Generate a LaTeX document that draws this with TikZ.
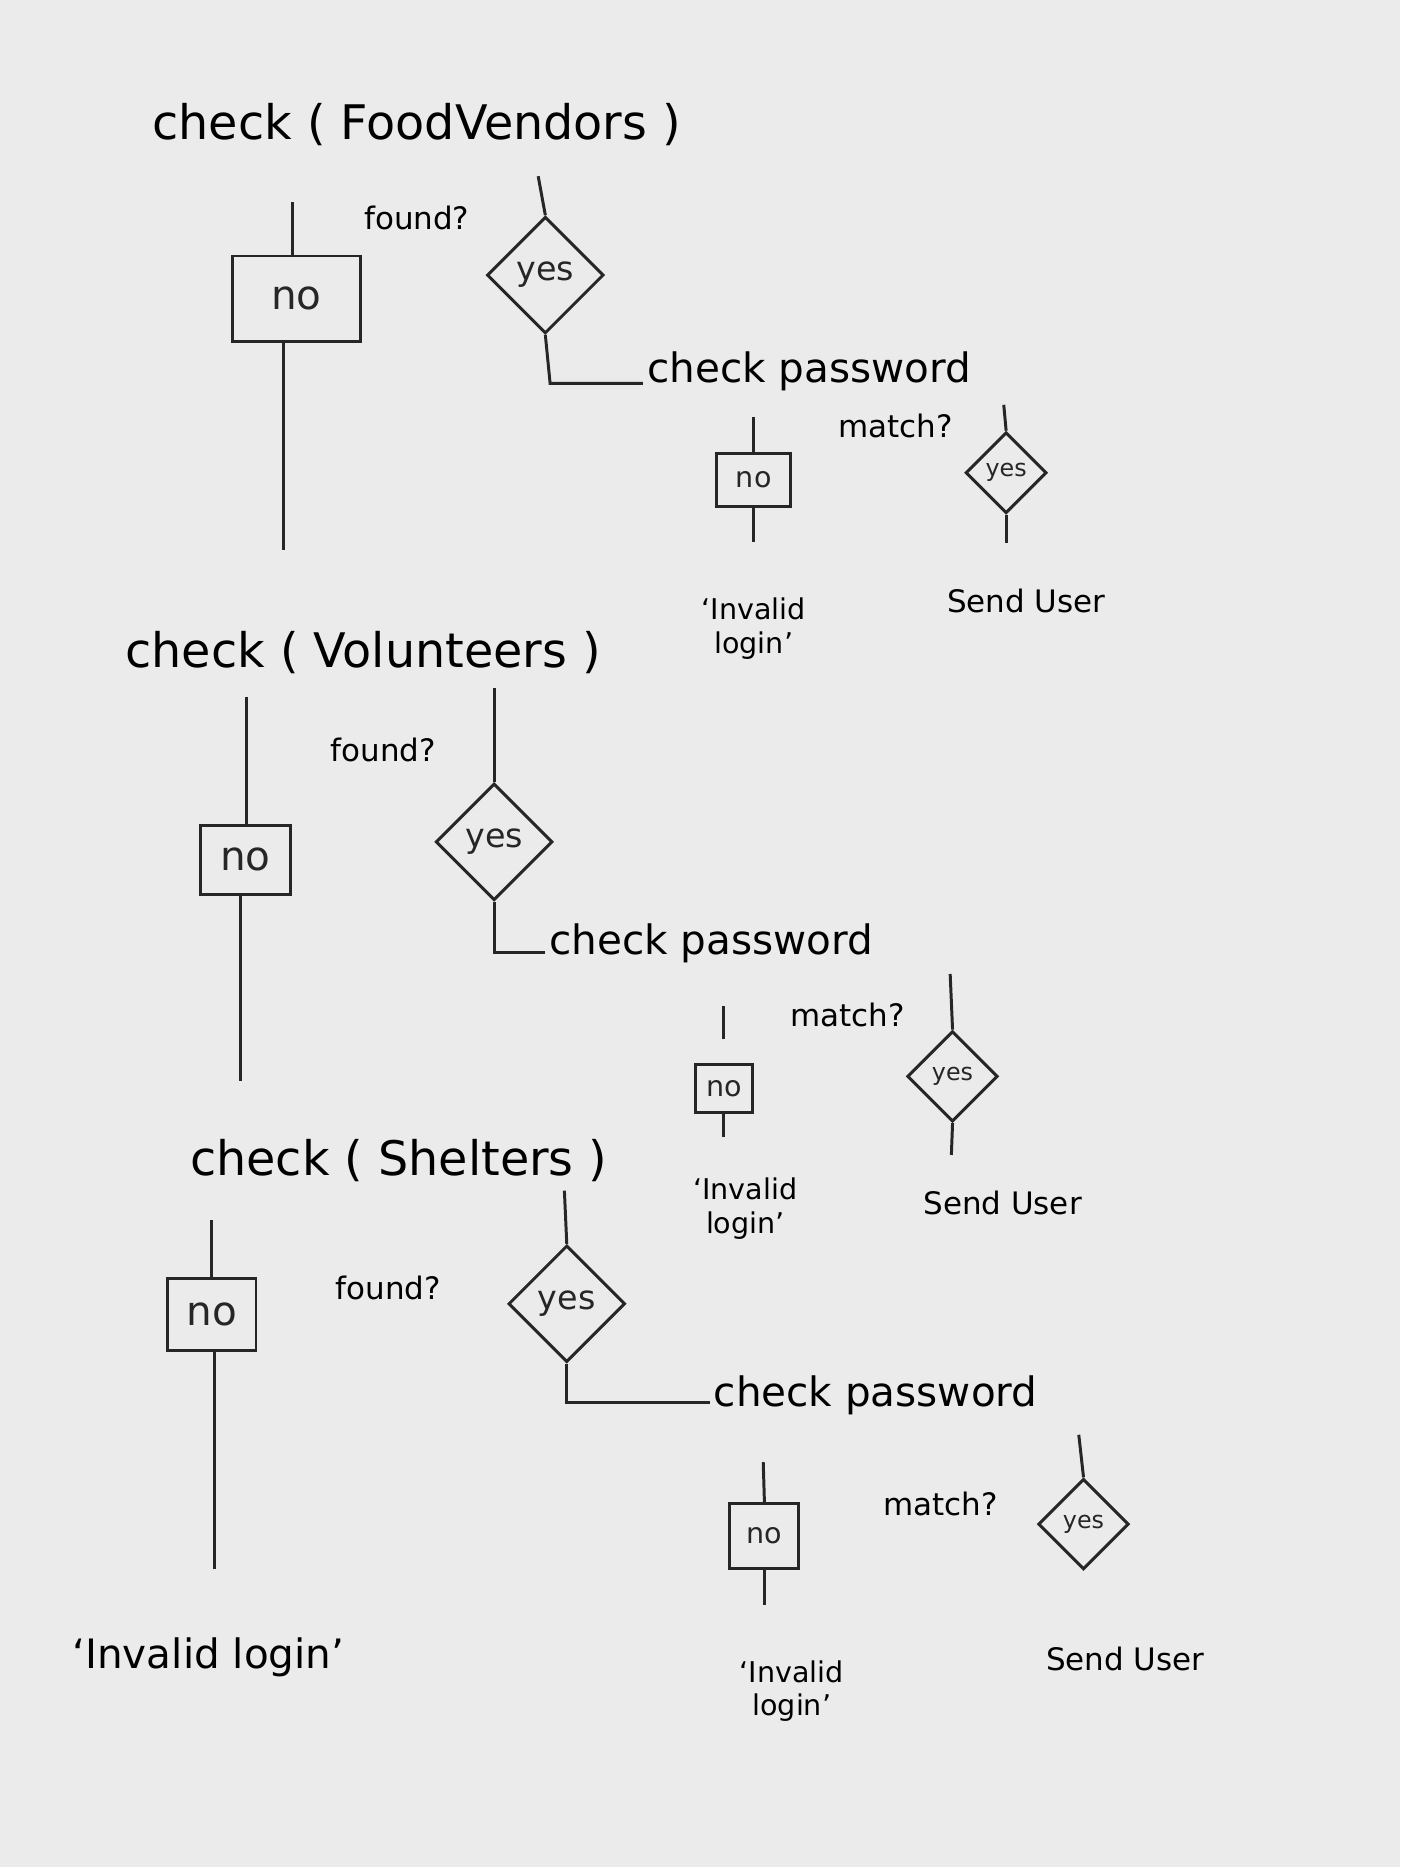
\documentclass[tikz,border=0pt]{standalone}
\usepackage{fontspec}
\setmainfont{DejaVu Sans}
\usetikzlibrary{shapes.geometric}
\tikzset{
  ink/.style={line width=2.5pt, black!85},
  nobox/.style={draw, ink, inner sep=4pt, font=\fontsize{34}{36}\selectfont},
  nosmall/.style={draw, ink, inner sep=3pt, font=\fontsize{24}{26}\selectfont},
  yesd/.style={draw, ink, diamond, inner sep=0pt, minimum width=98pt, minimum height=98pt, font=\fontsize{28}{30}\selectfont},
  yess/.style={draw, ink, diamond, inner sep=0pt, minimum width=68pt, minimum height=68pt, font=\fontsize{20}{22}\selectfont},
  title/.style={font=\fontsize{40}{44}\selectfont},
  cp/.style={font=\fontsize{34}{38}\selectfont},
  lbl/.style={font=\fontsize{26}{28}\selectfont},
  sm/.style={font=\fontsize{24}{28}\selectfont, align=center},
}
\begin{document}
\begin{tikzpicture}[x=1pt,y=-1pt]
\useasboundingbox (0,0) rectangle (1176,1568);
\fill[black!8] (0,0) rectangle (1176,1568);
% ---- section 1
\node[title] (t1) at (350,105) {check ( FoodVendors )};
\coordinate (n1a) at (246,170);
\node[nobox, minimum width=108pt, minimum height=72pt] (n1) at (249,251) {no};
\coordinate (n1b) at (238,462);
\draw[ink] (n1a) -- (n1.north -| n1a);
\draw[ink] (n1.south -| n1b) -- (n1b);
\node[lbl] (f1) at (350,183) {found?};
\coordinate (y1a) at (452,148);
\node[yesd] (y1) at (458,231) {yes};
\draw[ink] (y1a) -- (y1.north);
\coordinate (y1c) at (462,322);
\node[cp, anchor=west] (c1) at (540,312) {check password};
\draw[ink] (y1.south) -- (y1c) -- (c1.west |- y1c);
\node[nosmall, minimum width=62pt, minimum height=44pt] (m1n) at (633,403) {no};
\coordinate (m1na) at (633,350);
\coordinate (m1nb) at (633,455);
\draw[ink] (m1na) -- (m1n.north); \draw[ink] (m1n.south) -- (m1nb);
\node[lbl] (m1) at (752,358) {match?};
\node[yess] (m1y) at (845,397) {yes};
\coordinate (m1ya) at (843,340);
\coordinate (m1yb) at (845,456);
\draw[ink] (m1ya) -- (m1y.north); \draw[ink] (m1y.south) -- (m1yb);
\node[sm] (i1) at (633,528) {`Invalid\\login'};
\node[lbl] (s1) at (862,505) {Send User};
% ---- section 2
\node[title] (t2) at (305,548) {check ( Volunteers )};
\node[nobox, minimum width=76pt, minimum height=58pt] (n2) at (206,722) {no};
\coordinate (n2a) at (207,585);
\coordinate (n2b) at (202,908);
\draw[ink] (n2a) -- (n2.north -| n2a); \draw[ink] (n2.south -| n2b) -- (n2b);
\node[lbl] (f2) at (322,630) {found?};
\node[yesd] (y2) at (415,707) {yes};
\coordinate (y2a) at (415,578);
\coordinate (y2c) at (415,800);
\draw[ink] (y2a) -- (y2.north);
\node[cp, anchor=west] (c2) at (458,792) {check password};
\draw[ink] (y2.south) -- (y2c) -- (c2.west |- y2c);
\node[lbl] (m2) at (712,852) {match?};
\node[nosmall, minimum width=48pt, minimum height=40pt] (m2n) at (608,914) {no};
\coordinate (m2na) at (608,845);
\coordinate (m2nc) at (608,873);
\coordinate (m2nb) at (608,955);
\draw[ink] (m2na) -- (m2nc);
\draw[ink] (m2n.south) -- (m2nb);
\node[yess, minimum width=76pt, minimum height=76pt] (m2y) at (800,904) {yes};
\coordinate (m2ya) at (798,818);
\coordinate (m2yb) at (799,970);
\draw[ink] (m2ya) -- (m2y.north); \draw[ink] (m2y.south) -- (m2yb);
\node[sm] (i2) at (626,1015) {`Invalid\\login'};
\node[lbl] (s2) at (842,1010) {Send User};
% ---- section 3
\node[title] (t3) at (335,975) {check ( Shelters )};
\node[nobox, minimum width=74pt, minimum height=60pt] (n3) at (178,1104) {no};
\coordinate (n3a) at (178,1025);
\coordinate (n3b) at (180,1318);
\draw[ink] (n3a) -- (n3.north); \draw[ink] (n3.south -| n3b) -- (n3b);
\node[lbl] (f3) at (326,1082) {found?};
\node[yesd] (y3) at (476,1095) {yes};
\coordinate (y3a) at (474,1000);
\coordinate (y3c) at (476,1178);
\draw[ink] (y3a) -- (y3.north);
\node[cp, anchor=west] (c3) at (596,1172) {check password};
\draw[ink] (y3.south) -- (y3c) -- (c3.west |- y3c);
\node[nosmall, minimum width=58pt, minimum height=54pt] (m3n) at (642,1290) {no};
\coordinate (m3na) at (641,1228);
\coordinate (m3nb) at (642,1348);
\draw[ink] (m3na) -- (m3n.north); \draw[ink] (m3n.south) -- (m3nb);
\node[lbl] (m3) at (790,1263) {match?};
\node[yess, minimum width=76pt, minimum height=76pt] (m3y) at (910,1280) {yes};
\coordinate (m3ya) at (906,1205);
\draw[ink] (m3ya) -- (m3y.north);
\node[sm] (i3) at (665,1420) {`Invalid\\login'};
\node[lbl] (s3) at (945,1393) {Send User};
\node[cp] (i0) at (175,1392) {`Invalid login'};
\end{tikzpicture}
\end{document}
